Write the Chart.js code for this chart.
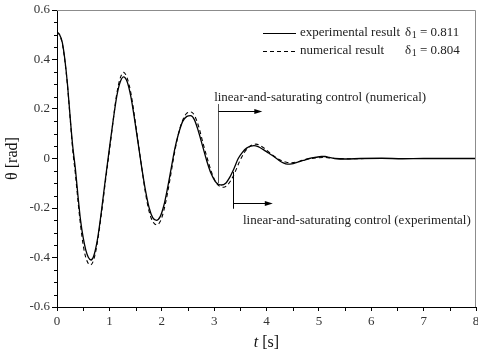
<!DOCTYPE html>
<html><head><meta charset="utf-8">
<script src="https://cdn.jsdelivr.net/npm/chart.js@4.4.1/dist/chart.umd.min.js"></script>
<style>html,body{margin:0;padding:0;background:#fff;overflow:hidden}</style></head>
<body><canvas id="c" width="478" height="356"></canvas>
<script>
// ---- data ----
const tExp = [0.00,0.05,0.10,0.15,0.20,0.25,0.30,0.35,0.40,0.45,0.50,0.55,0.60,0.65,0.70,0.77,0.85,0.92,1.00,1.07,1.14,1.20,1.27,1.34,1.41,1.48,1.55,1.62,1.69,1.76,1.83,1.90,1.97,2.04,2.11,2.18,2.25,2.32,2.40,2.48,2.55,2.62,2.70,2.78,2.86,2.94,3.02,3.08,3.14,3.22,3.30,3.38,3.46,3.54,3.62,3.70,3.76,3.84,3.94,4.04,4.14,4.24,4.32,4.40,4.48,4.58,4.70,4.82,4.95,5.05,5.12,5.20,5.30,5.50,5.80,6.20,6.60,7.00,7.50,8.00];
const thetaExp = [0.510,0.500,0.470,0.400,0.300,0.170,0.050,-0.040,-0.150,-0.250,-0.320,-0.370,-0.400,-0.410,-0.395,-0.330,-0.210,-0.090,0.040,0.150,0.250,0.305,0.330,0.310,0.250,0.160,0.060,-0.040,-0.130,-0.200,-0.240,-0.250,-0.235,-0.190,-0.120,-0.040,0.040,0.100,0.150,0.170,0.173,0.158,0.110,0.050,-0.010,-0.060,-0.092,-0.104,-0.107,-0.100,-0.075,-0.040,0.000,0.025,0.042,0.050,0.052,0.048,0.036,0.022,0.008,-0.008,-0.018,-0.023,-0.022,-0.016,-0.008,0.000,0.005,0.008,0.008,0.004,0.000,-0.002,0.000,0.001,-0.001,0.000,0.000,0.000];
const tNum = [0.00,0.05,0.10,0.15,0.20,0.25,0.30,0.35,0.40,0.45,0.50,0.55,0.60,0.64,0.70,0.77,0.85,0.92,1.00,1.07,1.14,1.20,1.27,1.34,1.41,1.48,1.55,1.62,1.69,1.76,1.83,1.90,1.97,2.04,2.11,2.18,2.25,2.32,2.40,2.48,2.56,2.63,2.71,2.79,2.87,2.95,3.03,3.11,3.18,3.25,3.33,3.41,3.49,3.57,3.65,3.73,3.80,3.88,3.98,4.08,4.18,4.28,4.38,4.48,4.58,4.70,4.85,5.00,5.12,5.25,5.50,6.00,7.00,8.00];
const thetaNum = [0.510,0.500,0.465,0.395,0.295,0.165,0.035,-0.060,-0.170,-0.270,-0.350,-0.400,-0.425,-0.430,-0.410,-0.340,-0.220,-0.100,0.030,0.150,0.260,0.320,0.348,0.325,0.265,0.170,0.065,-0.040,-0.140,-0.215,-0.255,-0.268,-0.255,-0.210,-0.140,-0.055,0.030,0.100,0.155,0.183,0.188,0.172,0.125,0.060,0.000,-0.055,-0.095,-0.113,-0.116,-0.108,-0.085,-0.050,-0.010,0.022,0.043,0.055,0.058,0.052,0.038,0.020,0.004,-0.008,-0.015,-0.017,-0.014,-0.006,0.000,0.003,0.004,0.001,-0.001,0.000,0.000,0.000];
const xTickValues = [0,1,2,3,4,5,6,7,8];
const xTickLabels = ['0','1','2','3','4','5','6','7','8'];
const yTickValues = [-0.6,-0.4,-0.2,0,0.2,0.4,0.6];
const yTickLabels = ['-0.6','-0.4','-0.2','0','0.2','0.4','0.6'];
const seriesNames = ['experimental result','numerical result'];
const deltaValues = ['0.811','0.804'];
const yTitle = 'θ [rad]';
const annotText = ['linear-and-saturating control (numerical)','linear-and-saturating control (experimental)'];
// annotation anchors in data units: [t, yTop, yBottom, arrowY, arrowEndT, textT, textY]
const annotNum = [3.07, 0.22, -0.099, 0.19, 3.92, 3.0, 0.245];
const annotExp = [3.36, -0.054, -0.203, -0.18, 4.12, 3.55, -0.252];

const SERIF = '"Liberation Serif","DejaVu Serif",serif';
const toXY = (ts, vs) => ts.map((t,i)=>({x:t, y:vs[i]}));

function arrow(ctx, x0, x1, y){
  ctx.beginPath(); ctx.moveTo(x0, y); ctx.lineTo(x1-5, y); ctx.stroke();
  ctx.beginPath(); ctx.moveTo(x1, y); ctx.lineTo(x1-8, y-2.5); ctx.lineTo(x1-8, y+2.5); ctx.closePath(); ctx.fill();
}

const deco = {
  id:'deco',
  afterDraw(chart){
    const {ctx, chartArea:a, scales:{x, y}} = chart;
    ctx.save();
    // top / right frame
    ctx.strokeStyle = '#8c8c8c'; ctx.lineWidth = 1;
    ctx.beginPath();
    ctx.moveTo(a.left, Math.round(a.top)+0.5);
    ctx.lineTo(Math.round(a.right)-0.5, Math.round(a.top)+0.5);
    ctx.lineTo(Math.round(a.right)-0.5, a.bottom);
    ctx.stroke();
    // minor ticks
    ctx.strokeStyle = '#000';
    ctx.beginPath();
    for (let k=-12; k<=12; k++){
      if (k % 4 === 0) continue;
      const py = Math.round(y.getPixelForValue(k*0.05))+0.5;
      ctx.moveTo(a.left-3, py); ctx.lineTo(a.left, py);
    }
    for (let k=1; k<16; k+=2){
      const px = Math.round(x.getPixelForValue(k*0.5))+0.5;
      ctx.moveTo(px, a.bottom); ctx.lineTo(px, a.bottom+4);
    }
    ctx.stroke();

    // legend
    ctx.fillStyle = '#222';
    ctx.textBaseline = 'middle';
    const rows = [33, 51];
    for (let i=0;i<2;i++){
      const ry = rows[i];
      ctx.strokeStyle = '#000'; ctx.lineWidth = 1.1;
      ctx.setLineDash(i===0 ? [] : [4,3]);
      ctx.beginPath(); ctx.moveTo(263, ry+0.5); ctx.lineTo(296, ry+0.5); ctx.stroke();
      ctx.setLineDash([]);
      ctx.font = '13px ' + SERIF;
      ctx.textAlign = 'left';
      ctx.fillText(seriesNames[i], 300, ry);
      ctx.fillText('δ', 405, ry);
      const dw = ctx.measureText('δ').width;
      ctx.font = '10px ' + SERIF;
      ctx.fillText('1', 405+dw+0.5, ry+2);
      const ow = ctx.measureText('1').width;
      ctx.font = '13px ' + SERIF;
      ctx.fillText(' = ' + deltaValues[i], 405+dw+0.5+ow, ry);
    }

    // annotations
    ctx.lineWidth = 1;
    const drawAnnot = (an, txt, vcol) => {
      const vx = Math.round(x.getPixelForValue(an[0]))+0.5;
      ctx.strokeStyle = vcol;
      ctx.beginPath();
      ctx.moveTo(vx, y.getPixelForValue(an[1]));
      ctx.lineTo(vx, y.getPixelForValue(an[2]));
      ctx.stroke();
      ctx.strokeStyle = '#000'; ctx.fillStyle = '#000';
      arrow(ctx, vx, x.getPixelForValue(an[4]), Math.round(y.getPixelForValue(an[3]))+0.5);
      ctx.fillStyle = '#222';
      ctx.font = '13px ' + SERIF;
      ctx.textAlign = 'left'; ctx.textBaseline = 'middle';
      ctx.fillText(txt, x.getPixelForValue(an[5]), y.getPixelForValue(an[6]));
    };
    drawAnnot(annotNum, annotText[0], '#555');
    drawAnnot(annotExp, annotText[1], '#000');

    // x title: italic t + [s]
    ctx.fillStyle = '#111';
    ctx.textBaseline = 'middle'; ctx.textAlign = 'left';
    ctx.font = 'italic 16px ' + SERIF;
    const tw = ctx.measureText('t').width;
    ctx.font = '16px ' + SERIF;
    const rest = ' [s]';
    const rw = ctx.measureText(rest).width;
    const cx = (a.left + a.right)/2;
    const sx = cx - (tw+rw)/2;
    ctx.font = 'italic 16px ' + SERIF;
    ctx.fillText('t', sx, 343);
    ctx.font = '16px ' + SERIF;
    ctx.fillText(rest, sx+tw, 343);
    ctx.restore();
  }
};

new Chart(document.getElementById('c'), {
  type: 'line',
  data: {
    datasets: [
      {label: seriesNames[1], data: toXY(tNum, thetaNum), borderColor:'#000', borderWidth:1.1, borderDash:[4,3], pointRadius:0, cubicInterpolationMode:'monotone', fill:false},
      {label: seriesNames[0], data: toXY(tExp, thetaExp), borderColor:'#000', borderWidth:1.3, pointRadius:0, cubicInterpolationMode:'monotone', fill:false}
    ]
  },
  options: {
    responsive:false, animation:false,
    layout:{padding:{left:0, right:2, top:10, bottom:0}},
    plugins:{legend:{display:false}, tooltip:{enabled:false}},
    scales:{
      x:{
        type:'linear', min:0, max:8, position:'bottom',
        afterBuildTicks: s => { s.ticks = xTickValues.map(v=>({value:v})); },
        afterFit: s => { s.height = 49; s.paddingLeft = 0; s.paddingRight = 0; },
        ticks:{callback:(v,i)=>xTickLabels[i], font:{family:SERIF, size:13}, color:'#333', padding:3, maxRotation:0, autoSkip:false},
        grid:{drawOnChartArea:false, tickLength:4, tickColor:'#000', color:'#000'},
        border:{color:'#000', width:1}
      },
      y:{
        min:-0.6, max:0.6,
        afterBuildTicks: s => { s.ticks = yTickValues.map(v=>({value:v})); },
        afterFit: s => { s.width = 57; },
        ticks:{callback:(v,i)=>yTickLabels[i], font:{family:SERIF, size:13}, color:'#333', padding:2, autoSkip:false},
        grid:{drawOnChartArea:false, tickLength:5, tickColor:'#000', color:'#000'},
        border:{color:'#000', width:1},
        title:{display:true, text:yTitle, font:{family:SERIF, size:16}, color:'#111', padding:{top:3, bottom:0}}
      }
    }
  },
  plugins:[deco]
});
</script>
</body></html>
